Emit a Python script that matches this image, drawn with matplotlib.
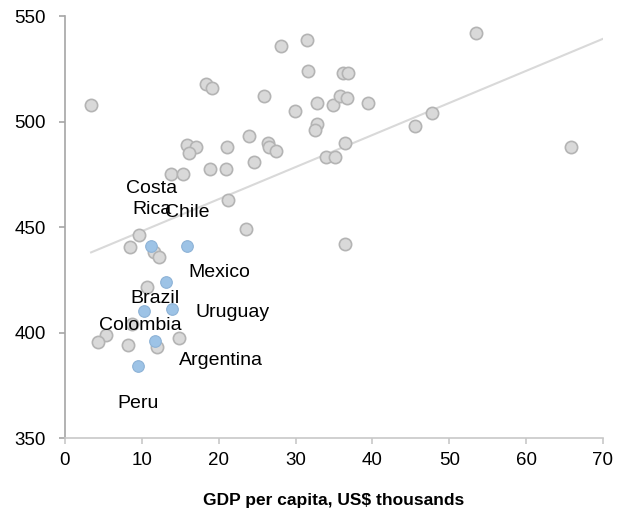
import matplotlib
matplotlib.use("Agg")
import matplotlib.pyplot as plt
import numpy as np

plt.rcParams['font.family'] = ['Liberation Sans', 'DejaVu Sans']

# Other countries (grey)
other_gdp = [3.4, 18.3, 19.1, 25.9, 28.1, 31.5, 31.6, 36.2, 36.8, 29.9, 32.8, 34.9, 35.8, 36.7,
             39.4, 32.8, 32.5, 36.4, 34.0, 35.1, 45.5, 47.7, 23.9, 26.4, 26.5, 27.4, 24.6, 53.5,
             65.9, 36.4, 15.9, 17.1, 16.1, 21.1, 18.9, 20.9, 13.8, 15.4, 21.2, 23.6, 9.6, 8.5,
             11.6, 12.2, 10.7, 5.4, 4.3, 8.2, 12.0, 14.8]
other_score = [508, 518, 516, 512, 536, 538.5, 524, 523, 523, 505, 509, 508, 512, 511,
               509, 499, 496, 490, 483, 483, 498, 504, 493, 490, 488, 486, 481, 542,
               488, 442, 489, 488, 485, 488, 477.5, 477.5, 475, 475, 463, 449, 446, 440.5,
               438, 436, 421.5, 399, 395.5, 394, 393, 397.5]

# Latin American countries
latam_names = ["Costa\nRica", "Chile", "Mexico", "Brazil", "Uruguay", "Colombia", "Argentina", "Peru"]
latam_gdp = [11.2, 15.9, 13.1, 10.3, 13.9, 8.7, 11.7, 9.5]
latam_score = [441, 441, 424, 410, 411, 404, 396, 384]
latam_highlight = [True, True, True, True, True, False, True, True]

# Trend line
trend_slope = 1.52
trend_intercept = 432.8

x_ticks = [0, 10, 20, 30, 40, 50, 60, 70]
y_ticks = [350, 400, 450, 500, 550]

# label offsets (pixels) relative to each point
label_offsets = {"Costa\nRica": (1, 47), "Chile": (0, 33), "Mexico": (54, 9), "Brazil": (11, 13),
                 "Uruguay": (61, -3), "Colombia": (8, -1), "Argentina": (66, -20), "Peru": (0, -37)}

fig = plt.figure(figsize=(6.17, 5.25), dpi=100)
ax = fig.add_axes([0.1053, 0.1657, 0.872, 0.8038])

grey_face = "#d9d9d9"
grey_edge = "#b4b4b4"
blue_face = "#9dc3e6"
blue_edge = "#8db2d6"

xs = np.array([min(other_gdp + latam_gdp), 70])
ax.plot(xs, trend_intercept + trend_slope * xs, color="#d9d9d9", lw=1.5, zorder=1)

ax.scatter(other_gdp, other_score, s=78, facecolor=grey_face, edgecolor=grey_edge, linewidth=1.2, zorder=2)
gx = [g for g, h in zip(latam_gdp, latam_highlight) if not h]
gy = [s for s, h in zip(latam_score, latam_highlight) if not h]
ax.scatter(gx, gy, s=78, facecolor=grey_face, edgecolor=grey_edge, linewidth=1.2, zorder=2)
bx = [g for g, h in zip(latam_gdp, latam_highlight) if h]
by = [s for s, h in zip(latam_score, latam_highlight) if h]
ax.scatter(bx, by, s=70, facecolor=blue_face, edgecolor=blue_edge, linewidth=0.8, zorder=3)

for name, gx_, sy_ in zip(latam_names, latam_gdp, latam_score):
    dx, dy = label_offsets[name]
    ax.annotate(name, (gx_, sy_), xytext=(dx, dy), textcoords="offset pixels",
                ha="center", va="center", fontsize=14, color="black", zorder=4,
                linespacing=1.35)

ax.set_xlim(0, 70)
ax.set_ylim(350, 550)
ax.set_xticks(x_ticks)
ax.set_yticks(y_ticks)
ax.tick_params(axis="both", labelsize=13.5, colors="black", direction="out", length=4)
ax.tick_params(axis="y", pad=10, color="#a6a6a6", width=1.2)
ax.tick_params(axis="x", pad=6, color="#c8c8c8", width=1.2)

for s in ["top", "right"]:
    ax.spines[s].set_visible(False)
ax.spines["left"].set_color("#a6a6a6")
ax.spines["left"].set_linewidth(1.2)
ax.spines["bottom"].set_color("#c8c8c8")
ax.spines["bottom"].set_linewidth(1.2)

ax.set_xlabel("GDP per capita, US$ thousands", fontsize=12.5, fontweight="bold", labelpad=17)

fig.savefig("out.png", dpi=100)
